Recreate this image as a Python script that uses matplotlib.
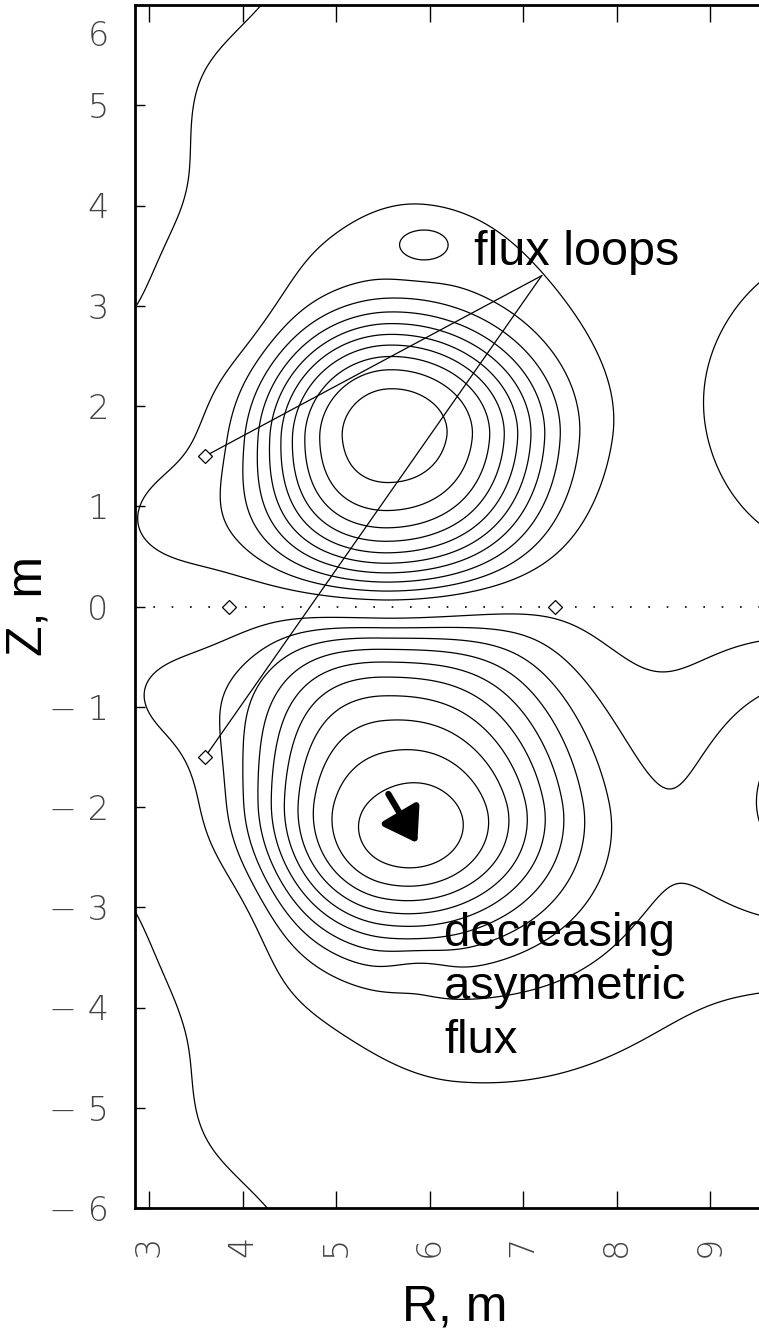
import numpy as np
import matplotlib
matplotlib.use("Agg")
import matplotlib.pyplot as plt
from matplotlib.patches import FancyArrowPatch
from matplotlib.transforms import ScaledTranslation

# flux sources in units of the contour step: centre R, centre Z, amplitude,
# widths on the inboard / outboard side, widths above / below centre, profile power
src_r = [5.55, 5.90, 3.50, 5.50, 5.80, 6.30, 3.50, 7.60,
         1.20, 3.20, 1.20, 3.20, 10.4, 10.2, 3.75, 3.75, 5.92, 5.90]
src_z = [1.68, 2.00, 0.80, -1.95, -2.30, -2.30, -0.80, -3.20,
         4.00, 8.30, -4.00, -8.30, 1.90, -1.85, 3.10, -3.15, 3.52, -3.62]
src_amp = [9.1, 1.76, 1.15, -7.2, -2.0, -1.9, -1.15, -0.7,
           4.0, 3.4, -4.0, -3.4, 3.0, -3.2, -1.0, 0.9, -0.55, 0.5]
src_wr_in = [1.06, 1.40, 0.90, 1.12, 0.80, 1.50, 0.90, 1.20,
             1.20, 1.20, 1.20, 1.20, 0.90, 0.95, 0.40, 0.45, 0.25, 0.25]
src_wr_out = [1.29, 1.60, 0.90, 1.60, 0.80, 2.00, 0.90, 1.20,
              1.20, 1.20, 1.20, 1.20, 0.90, 0.95, 0.40, 0.45, 0.25, 0.25]
src_wz_up = [0.92, 1.90, 0.60, 1.68, 0.60, 2.00, 0.60, 0.90,
             1.30, 1.60, 1.00, 1.60, 1.10, 1.10, 0.45, 0.50, 0.15, 0.15]
src_wz_dn = [1.34, 2.00, 0.60, 1.12, 0.60, 2.00, 0.60, 0.90,
             1.00, 1.60, 1.30, 1.60, 1.10, 1.10, 0.45, 0.50, 0.15, 0.15]
src_pow = [1.5, 1, 1, 1.5, 1, 1, 1, 1,
           1, 1, 1, 1, 1, 1, 1, 1, 1, 1]

n_levels = 11

# flux loop positions (R, Z) and the point the label lines meet
loop_r = [3.6, 3.6, 3.86, 7.34]
loop_z = [1.5, -1.5, 0.0, 0.0]
label_pt = (7.2, 3.3)

# arrow on the lower lobe
arrow_tail = (5.56, -1.87)
arrow_head = (5.87, -2.36)

x_ticks = [3, 4, 5, 6, 7, 8, 9]
y_ticks = [-6, -5, -4, -3, -2, -1, 0, 1, 2, 3, 4, 5, 6]

R = np.linspace(2.8, 9.8, 420)
Z = np.linspace(-6.3, 6.3, 760)
RR, ZZ = np.meshgrid(R, Z)
psi = np.zeros_like(RR)
for r0, z0, a, wi, wo, wu, wd, p in zip(src_r, src_z, src_amp, src_wr_in,
                                         src_wr_out, src_wz_up, src_wz_dn,
                                         src_pow):
    wr = np.where(RR > r0, wo, wi)
    wz = np.where(ZZ > z0, wu, wd)
    rho2 = ((RR - r0) / wr) ** 2 + ((ZZ - z0) / wz) ** 2
    psi += a * np.exp(-0.5 * rho2 ** p)

levels = [-k for k in range(n_levels, 0, -1)] + [k for k in range(1, n_levels + 1)]

fig = plt.figure(figsize=(7.59, 13.34), dpi=100)
# axes run past the right edge of the figure
ax = fig.add_axes([135 / 759, 1 - 1208 / 1334, 640 / 759, 1203 / 1334])
ax.set_xlim(2.85, 3 + (775 - 149) / 93.5)
ax.set_ylim(-6, 6)

ax.contour(RR, ZZ, psi, levels=levels, colors="k", linewidths=0.9,
           linestyles="solid")

ax.axhline(0, color="k", lw=1.2, dashes=(1, 10))

for r, z in zip(loop_r[:2], loop_z[:2]):
    ax.plot([r, label_pt[0]], [z, label_pt[1]], color="k", lw=0.9)
ax.plot(loop_r, loop_z, ls="none", marker="D", ms=7, mfc="white",
        mec="k", mew=0.9, zorder=5)

arrow = FancyArrowPatch(arrow_tail, arrow_head,
                        arrowstyle="-|>,head_length=0.45,head_width=0.3",
                        mutation_scale=44, color="k", lw=4.5,
                        shrinkA=0, shrinkB=0, zorder=6)
ax.add_patch(arrow)

ax.text(6.48, 3.41, "flux loops", fontsize=35, family="Liberation Sans",
        ha="left", va="baseline")
ax.text(6.16, -4.45, "decreasing\nasymmetric\nflux", fontsize=34,
        family="Liberation Sans", ha="left", va="baseline", linespacing=1.28)

tick_font = dict(fontsize=24, family="DejaVu Sans", fontweight=200)
ax.set_xticks(x_ticks)
ax.set_yticks(y_ticks)
ax.set_xticklabels([str(v) for v in x_ticks], rotation=90, **tick_font)
ax.set_yticklabels([str(v) if v >= 0 else "\u2212 " + str(-v) for v in y_ticks],
                   **tick_font)
ax.tick_params(axis="x", direction="in", length=12, width=1, top=True,
               pad=20, color="k")
ax.tick_params(axis="y", direction="in", length=7, width=1, pad=19)
for lab in ax.get_xticklabels() + ax.get_yticklabels():
    lab.set_color("#444444")
# top label sits lower so it stays clear of the frame
top_lab = ax.get_yticklabels()[-1]
top_lab.set_transform(top_lab.get_transform()
                      + ScaledTranslation(0, -28 / 100, fig.dpi_scale_trans))

for side in ["left", "top", "bottom"]:
    ax.spines[side].set_linewidth(2)
ax.spines["right"].set_visible(False)

ax.set_xlabel("R, m", fontsize=36, family="Liberation Sans", labelpad=20)
ax.set_ylabel("Z, m", fontsize=36, family="Liberation Sans")
ax.yaxis.set_label_coords(-83 / 640, 0.5)

fig.savefig("out.png", dpi=100)
